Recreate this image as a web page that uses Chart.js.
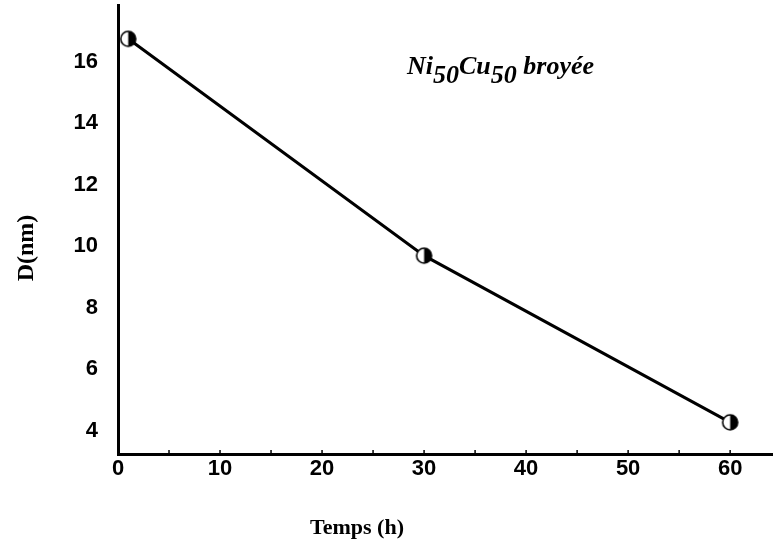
<!DOCTYPE html>
<html>
<head>
<meta charset="utf-8">
<script src="https://cdn.jsdelivr.net/npm/chart.js@4.4.0/dist/chart.umd.min.js"></script>
<style>
  html, body { margin: 0; padding: 0; background: #ffffff; }
  #wrap { width: 773px; height: 549px; }
</style>
</head>
<body>
<div id="wrap"><canvas id="plot" width="773" height="549"></canvas></div>
<script>
// milling time (h) and crystallite size D (nm)
const temps = [1, 30, 60];
const taille = [16.75, 9.7, 4.28];

const xTicks = [0, 10, 20, 30, 40, 50, 60];
const yTicks = [4, 6, 8, 10, 12, 14, 16];

const tickFont = { family: "'Liberation Sans', Arial, sans-serif", size: 22, weight: 'bold' };
const serif = "'Liberation Serif', 'Times New Roman', serif";

// half filled circle marker (left white, right black)
const makeMarker = (r)=>{
    let c = document.createElement("canvas");
    let s = 2*r + 4;
    c.width = s; c.height = s;
    let ctx = c.getContext("2d");
    let m = s/2;
    ctx.beginPath();
    ctx.arc(m, m, r, 0, Math.PI*2);
    ctx.fillStyle = "#ffffff";
    ctx.fill();
    ctx.beginPath();
    ctx.moveTo(m, m - r);
    ctx.arc(m, m, r, -Math.PI/2, Math.PI/2);
    ctx.closePath();
    ctx.fillStyle = "#000000";
    ctx.fill();
    ctx.beginPath();
    ctx.arc(m, m, r, 0, Math.PI*2);
    ctx.lineWidth = 1.6;
    ctx.strokeStyle = "#000000";
    ctx.stroke();
    return c;
};

const marker = makeMarker(7.5);

// inward tick marks, axis titles and the sample label
const decor = {
    id: 'decor',
    afterDraw: (chart)=>{
        const {ctx} = chart;
        const xs = chart.scales.x;
        const ys = chart.scales.y;
        ctx.save();
        ctx.strokeStyle = "#000000";
        ctx.lineWidth = 1.5;
        for (let t of xs.ticks){
            let px = xs.getPixelForValue(t.value);
            ctx.beginPath();
            ctx.moveTo(px, ys.bottom);
            ctx.lineTo(px, ys.bottom - 4);
            ctx.stroke();
        }

        ctx.fillStyle = "#000000";
        ctx.font = "bold 22px " + serif;
        ctx.textAlign = "center";
        ctx.textBaseline = "middle";
        ctx.fillText("Temps (h)", 357, 528);

        ctx.save();
        ctx.font = "bold 24px " + serif;
        ctx.translate(27, 248);
        ctx.rotate(-Math.PI/2);
        ctx.fillText("D(nm)", 0, 0);
        ctx.restore();

        // Ni50Cu50 broyée
        ctx.textAlign = "left";
        ctx.textBaseline = "alphabetic";
        let parts = [
            ["Ni", 0], ["50", 9], ["Cu", 0], ["50", 9], [" broyée", 0]
        ];
        let x = 407;
        ctx.font = "italic bold 26px " + serif;
        for (let p of parts){
            ctx.fillText(p[0], x, 74 + p[1]);
            x += ctx.measureText(p[0]).width;
        }
        ctx.restore();
    }
};

const config = {
    type: 'line',
    data: {
        datasets: [{
            label: 'D(nm)',
            data: temps.map((t, i)=>({x: t, y: taille[i]})),
            borderColor: '#000000',
            borderWidth: 3,
            tension: 0,
            pointStyle: marker,
            pointRadius: 8,
            pointHoverRadius: 8
        }]
    },
    options: {
        responsive: false,
        animation: false,
        layout: { autoPadding: false, padding: { top: 5, right: 0, left: 0, bottom: 0 } },
        plugins: {
            legend: { display: false },
            tooltip: { enabled: false }
        },
        scales: {
            x: {
                type: 'linear',
                min: 0,
                max: 64.2,
                grid: { display: false },
                border: { display: true, color: '#000000', width: 3 },
                ticks: {
                    stepSize: 5,
                    includeBounds: false,
                    autoSkip: false,
                    maxRotation: 0,
                    padding: -6,
                    color: '#000000',
                    font: tickFont,
                    callback: (v)=> xTicks.includes(v) ? String(v) : ''
                },
                afterFit: (s)=>{ s.height = 95; s.paddingLeft = 0; s.paddingRight = 0; }
            },
            y: {
                type: 'linear',
                min: 3.25,
                max: 17.85,
                grid: { display: false },
                border: { display: true, color: '#000000', width: 3 },
                ticks: {
                    stepSize: 2,
                    includeBounds: false,
                    padding: 12,
                    color: '#000000',
                    font: tickFont,
                    callback: (v)=> yTicks.includes(v) ? String(v) : ''
                },
                afterFit: (s)=>{ s.width = 118; s.paddingTop = 0; s.paddingBottom = 0; }
            }
        }
    },
    plugins: [decor]
};

new Chart(document.getElementById("plot"), config);
</script>
</body>
</html>
